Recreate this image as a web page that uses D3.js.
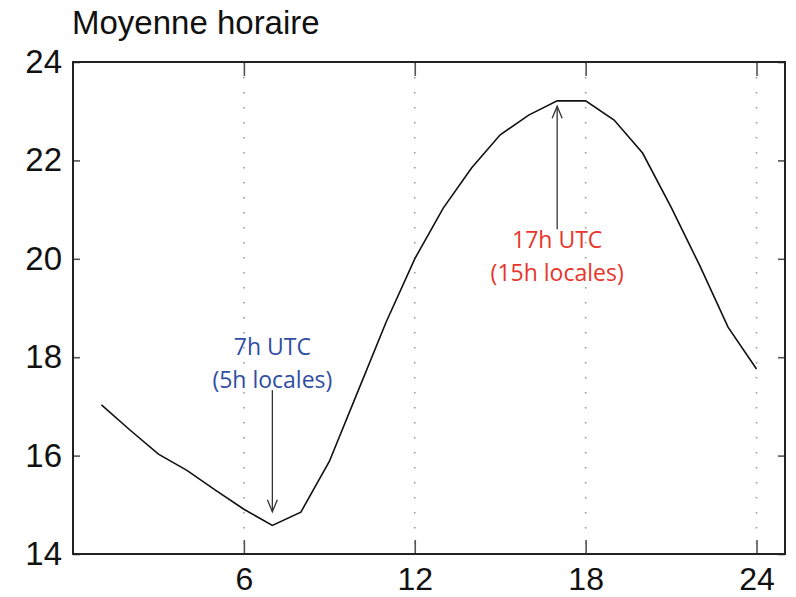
<!DOCTYPE html>
<html>
<head>
<meta charset="utf-8">
<script src="https://cdn.jsdelivr.net/npm/d3@7"></script>
<style>
  html, body { margin: 0; padding: 0; background: #fff; }
  svg { display: block; }
</style>
</head>
<body>
<svg id="chart" width="796" height="597"></svg>
<script>
// Hourly mean temperature, hours 1..24 (UTC)
const hours = d3.range(1, 25);
const hourlyMean = [
  17.03, 16.52, 16.03, 15.70, 15.30, 14.91, 14.58, 14.85,
  15.88, 17.30, 18.72, 20.00, 21.03, 21.85, 22.52, 22.92,
  23.21, 23.21, 22.82, 22.15, 21.05, 19.87, 18.61, 17.76
];
const xTicks = [6, 12, 18, 24];
const yTicks = [14, 16, 18, 20, 22, 24];
const titleText = "Moyenne horaire";

// Annotations: label lines, arrow from/to (in data units)
const notes = [
  { lines: ["7h UTC", "(5h locales)"], hour: 7, from: 17.33, to: 14.86, color: "#2f4ea3", labelY: 18.05 },
  { lines: ["17h UTC", "(15h locales)"], hour: 17, from: 20.60, to: 23.10, color: "#e8352b", labelY: 20.22 }
];

const svg = d3.select("#chart");
const m = { left: 73, right: 11, top: 62, bottom: 43 };
const W = 796, H = 597;

const x = d3.scaleLinear().domain([0, 25]).range([m.left, W - m.right]);
const y = d3.scaleLinear().domain([14, 24]).range([H - m.bottom, m.top]);

// dotted vertical grid
svg.append("g")
  .selectAll("line")
  .data(xTicks)
  .join("line")
  .attr("x1", d => x(d)).attr("x2", d => x(d))
  .attr("y1", y(24)).attr("y2", y(14))
  .attr("stroke", "#9a9a9a")
  .attr("stroke-width", 1.6)
  .attr("stroke-dasharray", "1.6,13.4");

const tickFont = "'Liberation Sans', Arial, Helvetica, sans-serif";

// axes with inward ticks
const gBottom = svg.append("g")
  .attr("transform", `translate(0,${y(14)})`)
  .call(d3.axisBottom(x).tickValues(xTicks).tickSizeInner(-14).tickSizeOuter(0).tickPadding(13));
const gTop = svg.append("g")
  .attr("transform", `translate(0,${y(24)})`)
  .call(d3.axisTop(x).tickValues(xTicks).tickSizeInner(-14).tickSizeOuter(0).tickFormat(""));
const gLeft = svg.append("g")
  .attr("transform", `translate(${x(0)},0)`)
  .call(d3.axisLeft(y).tickValues(yTicks).tickSizeInner(-7).tickSizeOuter(0).tickPadding(11));
const gRight = svg.append("g")
  .attr("transform", `translate(${x(25)},0)`)
  .call(d3.axisRight(y).tickValues(yTicks).tickSizeInner(-7).tickSizeOuter(0).tickFormat(""));

[gBottom, gTop, gLeft, gRight].forEach(g => {
  g.select(".domain").remove();
  g.selectAll(".tick line").attr("stroke", "#555").attr("stroke-width", 1.6);
  g.selectAll("text")
    .attr("fill", "#111")
    .style("font-family", tickFont)
    .style("font-size", "33px");
});
gBottom.selectAll("text").style("font-size", "32px");

// box frame
svg.append("rect")
  .attr("x", x(0)).attr("y", y(24))
  .attr("width", x(25) - x(0)).attr("height", y(14) - y(24))
  .attr("fill", "none")
  .attr("stroke", "#222")
  .attr("stroke-width", 2);

// data line
const line = d3.line().x((d, i) => x(hours[i])).y(d => y(d));
svg.append("path")
  .datum(hourlyMean)
  .attr("d", line)
  .attr("fill", "none")
  .attr("stroke", "#111")
  .attr("stroke-width", 1.6)
  .attr("stroke-linejoin", "miter");

// title
svg.append("text")
  .attr("x", x(0) - 1)
  .attr("y", 34)
  .attr("fill", "#111")
  .style("font-family", tickFont)
  .style("font-size", "33px")
  .text(titleText);

// annotations: arrows and labels
const ann = svg.append("g");
notes.forEach(n => {
  const ax = x(n.hour);
  const y0 = y(n.from), y1 = y(n.to);
  const dir = Math.sign(y1 - y0);
  ann.append("line")
    .attr("x1", ax).attr("x2", ax)
    .attr("y1", y0).attr("y2", y1)
    .attr("stroke", "#333").attr("stroke-width", 1.3);
  ann.append("path")
    .attr("d", `M${ax - 5},${y1 - dir * 12} L${ax},${y1} L${ax + 5},${y1 - dir * 12}`)
    .attr("fill", "none")
    .attr("stroke", "#333").attr("stroke-width", 1.3);
  const t = ann.append("text")
    .attr("text-anchor", "middle")
    .attr("fill", n.color)
    .style("font-family", "'Open Sans', 'Noto Sans', sans-serif")
    .style("font-size", "23px");
  n.lines.forEach((s, i) => {
    t.append("tspan")
      .attr("x", ax)
      .attr("y", y(n.labelY) + i * 33.5)
      .text(s);
  });
});
</script>
</body>
</html>
